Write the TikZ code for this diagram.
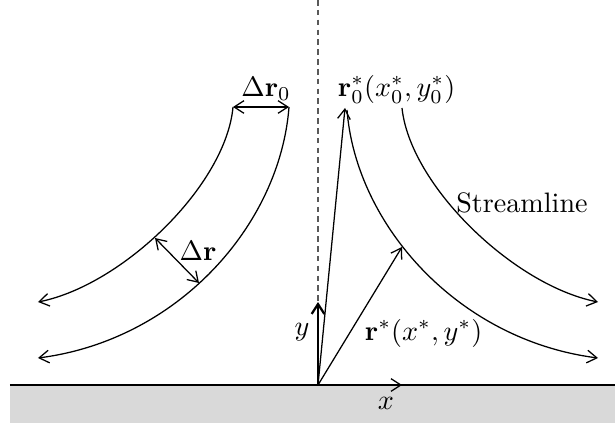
\documentclass[tikz,border=0pt]{standalone}
\usetikzlibrary{arrows.meta}
\tikzset{
    % 细箭头
    barbarrow/.style={
        line width=0.45pt,
        black,
        ->,
        >={Straight Barb[length=3.5pt, width=4.5pt]}
    },
    % 双向箭头
    twoarrow/.style={
        barbarrow,
        <->
    }
}
\begin{document}
\begin{tikzpicture}[x=0.125cm,y=0.125cm]
	\useasboundingbox (-31.8,-3.8) rectangle (29.7,38.5);
	
	% 地面
	\fill[gray!30] (-30.8,-3.8) rectangle (29.7,0);
	\draw[line width=0.5pt] (-30.8,0) -- (29.7,0);
	
	\path
	(0,0) coordinate (o)
	(0,38.5) coordinate (top)
	(0,8.3) coordinate (ey)
	(8.4,0) coordinate (ex)
	(2.7,27.7) coordinate (r0)
	(8.4,13.8) coordinate (r)
	(-8.5,27.8) coordinate (a1)
	(-2.9,27.8) coordinate (a2)
	(-16.3,14.7) coordinate (d1)
	(-11.9,10.2) coordinate (d2);
	
	% 对称轴
	\draw[gray!70!black,line width=0.5pt,dash pattern=on 2pt off 1.5pt] (top) -- (ey);
	
	% 坐标轴与位置矢量
	\draw[barbarrow,line width=0.8pt] (o) -- (ey);
	\draw[barbarrow] (o) -- (ex);
	\draw[barbarrow] (o) -- (r0);
	\draw[barbarrow] (o) -- (r);
	
	% 左侧流线
	\draw[barbarrow] (a1) .. controls (-9.2,20) and (-19.5,10) .. (-28,8.3);
	\draw[barbarrow] (a2) .. controls (-3.8,16) and (-14,4.5) .. (-28,2.7);
	
	% 右侧流线
	\draw[barbarrow] (2.9,27.5) .. controls (3.8,16) and (14,4.5) .. (28,2.7);
	\draw[barbarrow] (8.4,27.7) .. controls (9.2,20) and (19.5,10) .. (28,8.3);
	
	% 间距
	\draw[twoarrow] (a1) -- (a2);
	\draw[twoarrow] (d1) -- (d2);
	
	% 文字标注
	\node (lda0) at (-5.2,29.6) {$\Delta\mathbf{r}_0$};
	\node (ldr) at (-12,13.4) {$\Delta\mathbf{r}$};
	\node[anchor=west] (lr0) at (1.0,29.6) {$\mathbf{r}_0^*(x_0^*,y_0^*)$};
	\node (lstream) at (20.4,18.2) {Streamline};
	\node (ly) at (-1.6,5.3) {$y$};
	\node[anchor=west] (lr) at (3.7,5.2) {$\mathbf{r}^*(x^*,y^*)$};
	\node (lx) at (6.8,-1.8) {$x$};
\end{tikzpicture}
\end{document}
